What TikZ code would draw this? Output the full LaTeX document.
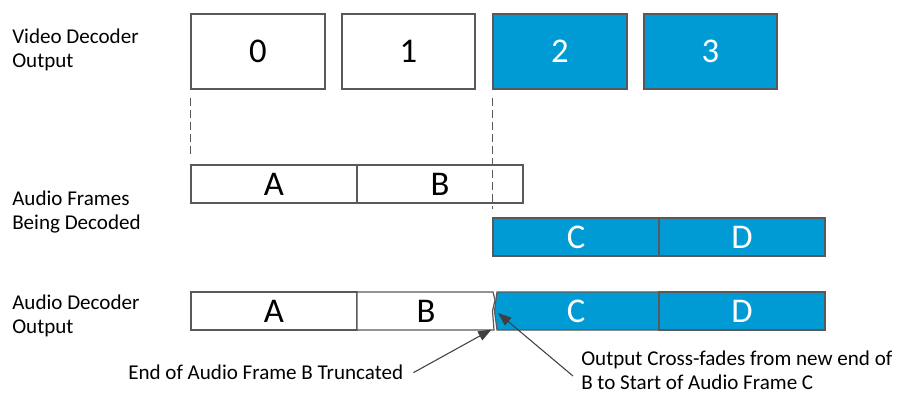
\documentclass[tikz,border=0pt]{standalone}
\usepackage{fontspec}
\setmainfont{Carlito}
\usetikzlibrary{arrows.meta}
\definecolor{fblue}{RGB}{0,155,212}
\definecolor{edge}{RGB}{89,89,89}
\begin{document}
\begin{tikzpicture}[x=0.75pt,y=-0.75pt,
  sz/.style 2 args={minimum width=#1*0.75pt, minimum height=#2*0.75pt},
  box/.style={draw=edge, line width=0.9pt, inner sep=0pt, font=\fontsize{26}{30}\selectfont},
  wbox/.style={box, fill=white, text=black},
  bbox/.style={box, fill=fblue, text=white},
  boxtext/.style={inner sep=0pt, font=\fontsize{26}{30}\selectfont},
  lbl/.style={align=left, font=\fontsize{15.8}{18}\selectfont, inner sep=0pt, anchor=west},
  guide/.style={draw=edge, line width=0.8pt, dash pattern=on 6pt off 3pt},
  callout/.style={draw=black!75, line width=0.8pt, -{Triangle[length=10pt,width=7.5pt]}}]
\useasboundingbox (0,0) rectangle (898,393);

% row labels
\node[lbl] (l1) at (12,50.3) {Video Decoder\\Output};
\node[lbl] (l2) at (12,211.5) {Audio Frames\\Being Decoded};
\node[lbl] (l3) at (12,316) {Audio Decoder\\Output};

% video frames
\node[wbox, sz={134}{75}] (v0) at (258,51.5) {0};
\node[wbox, sz={133}{75}] (v1) at (408.5,51.5) {1};
\node[bbox, sz={134}{75}] (v2) at (560,51.5) {2};
\node[bbox, sz={133}{75}] (v3) at (710.5,51.5) {3};

% audio frames being decoded
\node[wbox, sz={166}{38}] (a1) at (274,184) {A};
\node[wbox, sz={166}{38}] (b1) at (440,184) {B};
\node[bbox, sz={166}{38}] (c1) at (576,237) {C};
\node[bbox, sz={166}{38}] (d1) at (742,237) {D};

% guides
\draw[guide] ([yshift=-6pt]v0.south west) -- ([yshift=7.5pt]a1.north west);
\draw[guide] ([yshift=-6pt]v2.south west) -- ([yshift=6pt]c1.north west);

% audio decoder output
\node[wbox, sz={166}{38}] (a2) at (274,311) {A};
\draw[draw=edge, fill=white, line width=0.9pt]
  (357,292) -- (493,292) -- (495,300) -- (492.5,311) -- (494,330) -- (357,330) -- cycle;
\node[boxtext, text=black] (b2) at (426,311) {B};
\draw[draw=edge, fill=fblue, line width=0.9pt]
  (497,292) -- (659,292) -- (659,330) -- (497,330) -- (494.5,311) -- cycle;
\node[boxtext, text=white] (c2) at (576,311) {C};
\node[bbox, sz={166}{38}] (d2) at (742,311) {D};

% callouts
\node[lbl] (endlbl) at (128,372.6) {End of Audio Frame B Truncated};
\node[lbl] (xfade) at (581,370) {Output Cross-fades from new end of\\B to Start of Audio Frame C};
\coordinate (tipB) at (491.5,329.5);
\coordinate (tipC) at (498,313);
\draw[callout] ([xshift=7.5pt]endlbl.east) -- (tipB);
\draw[callout] ([xshift=-6pt,yshift=-4.5pt]xfade.west) -- (tipC);
\end{tikzpicture}
\end{document}
